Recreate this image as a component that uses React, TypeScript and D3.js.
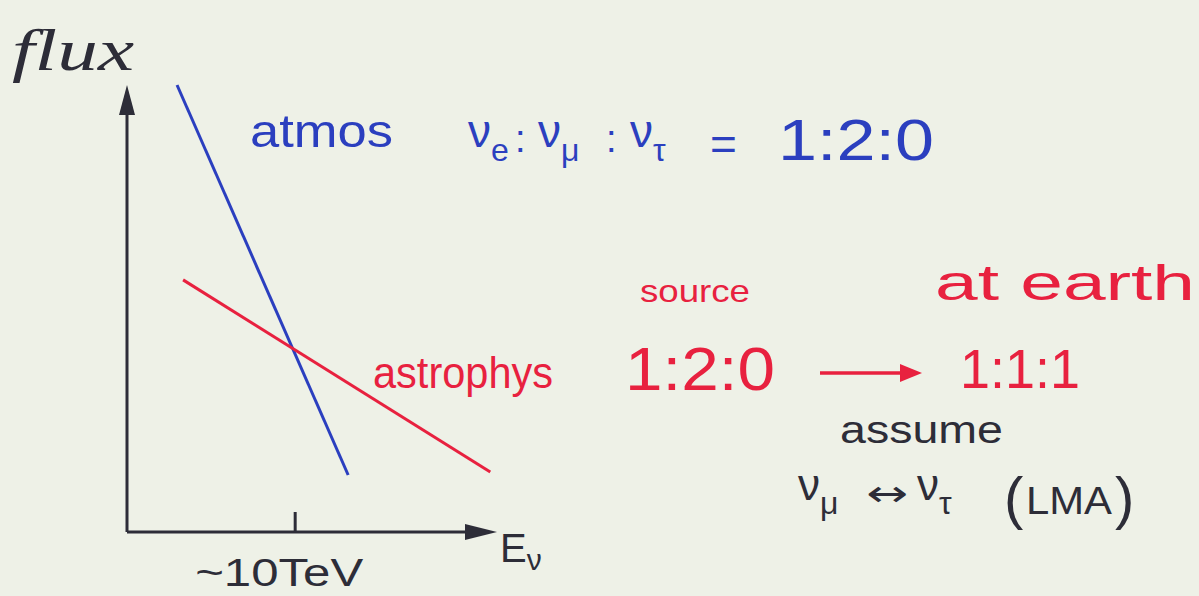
import React from "react";
import * as d3 from "d3";

// Sketch of neutrino flux vs energy (log-log, arbitrary units)
// x: log10(E / GeV), y: log10(flux) in arbitrary units
const energyDomain: [number, number] = [2, 6.4];
const fluxDomain: [number, number] = [0, 10];

const seriesNames = ["atmos", "astrophys"];
const atmosLogE = [2.595, 4.63];
const atmosLogFlux = [10, 1.275];
const astroLogE = [2.667, 6.32];
const astroLogFlux = [5.64, 1.34];

const tickLogE = [4];
const tickLabels = ["~10TeV"];

const W = 1199;
const H = 596;
const BG = "#eef1e7";
const BLUE = "#2b3fbf";
const RED = "#e8213f";
const INK = "#2d2d38";
const FONT = "'Liberation Sans', 'DejaVu Sans', sans-serif";

// a neutrino symbol with a subscript flavour
function Nu({ x, y, sub, size, subSize, color }: { x: number; y: number; sub: string; size: number; subSize: number; color: string }) {
  return (
    <text x={x} y={y} fontFamily={FONT} fontSize={size} fill={color}>
      ν<tspan fontSize={subSize} dy={subSize * 0.45}>{sub}</tspan>
    </text>
  );
}

export default function App() {
  const x = d3.scaleLinear().domain(energyDomain).range([127, 497]);
  const y = d3.scaleLinear().domain(fluxDomain).range([532, 85]);
  const line = d3
    .line<[number, number]>()
    .x((d) => x(d[0]))
    .y((d) => y(d[1]));

  const atmos: [number, number][] = atmosLogE.map((e, i) => [e, atmosLogFlux[i]]);
  const astro: [number, number][] = astroLogE.map((e, i) => [e, astroLogFlux[i]]);

  const x0 = x(energyDomain[0]);
  const x1 = x(energyDomain[1]);
  const y0 = y(fluxDomain[0]);
  const y1 = y(fluxDomain[1]);

  return (
    <div style={{ position: "absolute", left: 0, top: 0 }}>
      <svg width={W} height={H} style={{ display: "block" }}>
        <rect width={W} height={H} fill={BG} />

        {/* axes */}
        <line x1={x0} y1={y0} x2={x0} y2={y1 + 20} stroke={INK} strokeWidth={3} />
        <path d={`M${x0},${y1} L${x0 - 8},${y1 + 30} L${x0 + 8},${y1 + 30} Z`} fill={INK} />
        <line x1={x0} y1={y0} x2={x1 - 20} y2={y0} stroke={INK} strokeWidth={3} />
        <path d={`M${x1},${y0} L${x1 - 32},${y0 - 8} L${x1 - 32},${y0 + 8} Z`} fill={INK} />

        {tickLogE.map((t, i) => (
          <g key={i}>
            <line x1={x(t)} x2={x(t)} y1={y0 - 20} y2={y0} stroke={INK} strokeWidth={3} />
            <text
              x={x(t) - 100}
              y={586}
              fontFamily={FONT}
              fontSize={38}
              fill={INK}
              textLength={168}
              lengthAdjust="spacingAndGlyphs"
            >
              {tickLabels[i]}
            </text>
          </g>
        ))}

        <text x={12} y={70} fontFamily="'Liberation Serif', serif" fontStyle="italic" fontSize={60} fill={INK}
          textLength={122} lengthAdjust="spacingAndGlyphs">flux</text>
        <text x={500} y={562} fontFamily={FONT} fontSize={40} fill={INK}>
          E<tspan fontSize={30} dy={8}>ν</tspan>
        </text>

        {/* spectra */}
        <path d={line(atmos) ?? ""} stroke={BLUE} strokeWidth={3} fill="none" />
        <path d={line(astro) ?? ""} stroke={RED} strokeWidth={3} fill="none" />

        {/* atmospheric flavour ratio */}
        <text x={250} y={147} fontFamily={FONT} fontSize={46} fill={BLUE}
          textLength={143} lengthAdjust="spacingAndGlyphs">{seriesNames[0]}</text>
        <Nu x={468} y={147} sub="e" size={46} subSize={32} color={BLUE} />
        <text x={515} y={152} fontFamily={FONT} fontSize={38} fill={BLUE}>:</text>
        <Nu x={538} y={147} sub="μ" size={46} subSize={32} color={BLUE} />
        <text x={606} y={152} fontFamily={FONT} fontSize={38} fill={BLUE}>:</text>
        <Nu x={630} y={147} sub="τ" size={46} subSize={32} color={BLUE} />
        <text x={710} y={160} fontFamily={FONT} fontSize={46} fill={BLUE}>=</text>
        <text x={778} y={160} fontFamily={FONT} fontSize={58} fill={BLUE}
          textLength={156} lengthAdjust="spacingAndGlyphs">1:2:0</text>

        {/* astrophysical flavour ratio */}
        <text x={373} y={388} fontFamily={FONT} fontSize={44} fill={RED}
          textLength={180} lengthAdjust="spacingAndGlyphs">{seriesNames[1]}</text>
        <text x={640} y={302} fontFamily={FONT} fontSize={32} fill={RED}
          textLength={110} lengthAdjust="spacingAndGlyphs">source</text>
        <text x={935} y={300} fontFamily={FONT} fontSize={50} fill={RED}
          textLength={260} lengthAdjust="spacingAndGlyphs">at earth</text>
        <text x={625} y={390} fontFamily={FONT} fontSize={62} fill={RED}
          textLength={150} lengthAdjust="spacingAndGlyphs">1:2:0</text>
        <line x1={820} y1={373} x2={905} y2={373} stroke={RED} strokeWidth={3.5} />
        <path d="M922,373 L900,364 L900,382 Z" fill={RED} />
        <text x={960} y={388} fontFamily={FONT} fontSize={56} fill={RED}
          textLength={120} lengthAdjust="spacingAndGlyphs">1:1:1</text>

        {/* oscillation assumption */}
        <text x={840} y={443} fontFamily={FONT} fontSize={38} fill={INK}
          textLength={163} lengthAdjust="spacingAndGlyphs">assume</text>
        <Nu x={798} y={500} sub="μ" size={44} subSize={32} color={INK} />
        <text x={866} y={506} fontFamily="'DejaVu Sans', sans-serif" fontSize={36} fill={INK}
          textLength={42} lengthAdjust="spacingAndGlyphs">↔</text>
        <Nu x={917} y={500} sub="τ" size={44} subSize={32} color={INK} />
        <text x={1004} y={518} fontFamily={FONT} fontSize={58} fill={INK}>(</text>
        <text x={1026} y={514} fontFamily={FONT} fontSize={38} fill={INK}
          textLength={86} lengthAdjust="spacingAndGlyphs">LMA</text>
        <text x={1115} y={518} fontFamily={FONT} fontSize={58} fill={INK}>)</text>
      </svg>
    </div>
  );
}
